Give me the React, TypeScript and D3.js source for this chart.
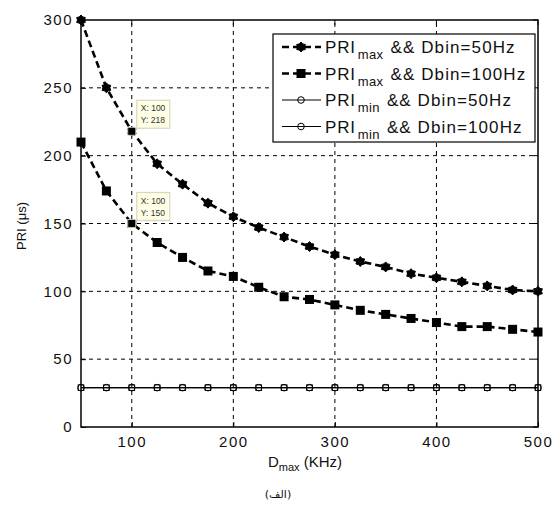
import React, { useRef, useEffect } from 'react';
import * as d3 from 'd3';

// D_max (KHz) sample points
const dmax = [50, 75, 100, 125, 150, 175, 200, 225, 250, 275, 300, 325, 350, 375, 400, 425, 450, 475, 500];
// PRI (us)
const priMax50 = [300, 250, 218, 194, 179, 165, 155, 147, 140, 133, 127, 122, 118, 113, 110, 107, 104, 101, 100];
const priMax100 = [210, 174, 150, 136, 125, 115, 111, 103, 96, 94, 90, 86, 83, 80, 77, 74, 74, 72, 70];
const priMin50 = [29, 29, 29, 29, 29, 29, 29, 29, 29, 29, 29, 29, 29, 29, 29, 29, 29, 29, 29];
const priMin100 = [29, 29, 29, 29, 29, 29, 29, 29, 29, 29, 29, 29, 29, 29, 29, 29, 29, 29, 29];

const xTicks = [100, 200, 300, 400, 500];
const yTicks = [0, 50, 100, 150, 200, 250, 300];

const legendLabels = [
  { sub: 'max', rest: 'Dbin=50Hz' },
  { sub: 'max', rest: 'Dbin=100Hz' },
  { sub: 'min', rest: 'Dbin=50Hz' },
  { sub: 'min', rest: 'Dbin=100Hz' },
];

const dataTips = [
  { x: 100, y: 218 },
  { x: 100, y: 150 },
];

function hexagram(r) {
  const pts = [];
  for (let i = 0; i < 12; i++) {
    const a = (Math.PI / 6) * i - Math.PI / 2;
    const rr = i % 2 === 0 ? r : r * 0.7;
    pts.push([Math.cos(a) * rr, Math.sin(a) * rr]);
  }
  return 'M' + pts.map(p => p.join(',')).join('L') + 'Z';
}

function App() {
  const svgRef = useRef(null);

  useEffect(() => {
    const svg = d3.select(svgRef.current);
    svg.selectAll('*').remove();

    const width = 557;
    const height = 507;
    const margin = { top: 20, right: 19, bottom: 80, left: 81 };
    const font = 'Liberation Sans, Arial, sans-serif';

    const x = d3.scaleLinear().domain([50, 500]).range([margin.left, width - margin.right]);
    const y = d3.scaleLinear().domain([0, 300]).range([height - margin.bottom, margin.top]);

    svg.append('rect').attr('width', width).attr('height', height).attr('fill', '#fff');

    // grid
    const grid = svg.append('g').attr('stroke', '#000').attr('stroke-width', 1).attr('stroke-dasharray', '4,4');
    grid.selectAll('.gx')
      .data(xTicks.filter(t => t < 500))
      .join('line')
      .attr('x1', d => x(d)).attr('x2', d => x(d))
      .attr('y1', y(0)).attr('y2', y(300));
    grid.selectAll('.gy')
      .data(yTicks.filter(t => t > 0 && t < 300))
      .join('line')
      .attr('class', 'gy')
      .attr('x1', x(50)).attr('x2', x(500))
      .attr('y1', d => y(d)).attr('y2', d => y(d));

    // series
    const line = vals => d3.line()
      .x((d, i) => x(dmax[i]))
      .y(d => y(d))(vals);

    const series = [
      { vals: priMin100, dash: null, w: 1.2, marker: 'osq' },
      { vals: priMin50, dash: null, w: 1.2, marker: 'ocirc' },
      { vals: priMax100, dash: '7,4', w: 2.6, marker: 'sq' },
      { vals: priMax50, dash: '7,4', w: 2.6, marker: 'hex' },
    ];

    const drawMarker = (g, kind, cx, cy) => {
      if (kind === 'hex') {
        g.append('path').attr('d', hexagram(5)).attr('transform', `translate(${cx},${cy})`)
          .attr('fill', '#000').attr('stroke', '#000').attr('stroke-width', 1);
      } else if (kind === 'sq') {
        g.append('rect').attr('x', cx - 4.5).attr('y', cy - 4.5).attr('width', 9).attr('height', 9)
          .attr('fill', '#000');
      } else if (kind === 'ocirc') {
        g.append('circle').attr('cx', cx).attr('cy', cy).attr('r', 3.3)
          .attr('fill', 'none').attr('stroke', '#000').attr('stroke-width', 1);
      } else if (kind === 'osq') {
        g.append('rect').attr('x', cx - 2.8).attr('y', cy - 2.8).attr('width', 5.6).attr('height', 5.6)
          .attr('fill', 'none').attr('stroke', '#000').attr('stroke-width', 1);
      }
    };

    series.forEach(s => {
      svg.append('path')
        .attr('d', line(s.vals))
        .attr('fill', 'none')
        .attr('stroke', '#000')
        .attr('stroke-width', s.w)
        .attr('stroke-dasharray', s.dash);
      const g = svg.append('g');
      s.vals.forEach((v, i) => drawMarker(g, s.marker, x(dmax[i]), y(v)));
    });

    // axes box and ticks
    svg.append('rect')
      .attr('x', x(50)).attr('y', y(300))
      .attr('width', x(500) - x(50)).attr('height', y(0) - y(300))
      .attr('fill', 'none').attr('stroke', '#000').attr('stroke-width', 1.5);

    const xAxis = svg.append('g')
      .attr('transform', `translate(0,${y(0)})`)
      .call(d3.axisBottom(x).tickValues(xTicks).tickSizeInner(-5).tickSizeOuter(0).tickPadding(9));
    const yAxis = svg.append('g')
      .attr('transform', `translate(${x(50)},0)`)
      .call(d3.axisLeft(y).tickValues(yTicks).tickSizeInner(-5).tickSizeOuter(0).tickPadding(8));
    [xAxis, yAxis].forEach(a => {
      a.select('.domain').remove();
      a.selectAll('text')
        .attr('font-family', font)
        .attr('font-size', 15)
        .attr('letter-spacing', 1.5)
        .attr('fill', '#111');
    });
    svg.append('g').selectAll('line').data(xTicks).join('line')
      .attr('x1', d => x(d)).attr('x2', d => x(d))
      .attr('y1', y(300)).attr('y2', y(300) + 5).attr('stroke', '#000');
    svg.append('g').selectAll('line').data(yTicks).join('line')
      .attr('x1', x(500)).attr('x2', x(500) - 5)
      .attr('y1', d => y(d)).attr('y2', d => y(d)).attr('stroke', '#000');

    // axis labels
    const xl = svg.append('text')
      .attr('x', 305).attr('y', 467)
      .attr('text-anchor', 'middle')
      .attr('font-family', font).attr('font-size', 15).attr('fill', '#111');
    xl.append('tspan').text('D');
    xl.append('tspan').attr('font-size', 11).attr('dy', 4).text('max');
    xl.append('tspan').attr('dy', -4).text(' (KHz)');

    svg.append('text')
      .attr('transform', 'translate(26,226) rotate(-90)')
      .attr('text-anchor', 'middle')
      .attr('font-family', font).attr('font-size', 13).attr('fill', '#111')
      .text('PRI (μs)');

    svg.append('text')
      .attr('x', 278).attr('y', 498)
      .attr('text-anchor', 'middle')
      .attr('font-family', 'DejaVu Sans, sans-serif').attr('font-size', 11).attr('fill', '#111')
      .text('(الف)');

    // data tips
    dataTips.forEach(t => {
      const px = x(t.x);
      const py = y(t.y);
      svg.append('rect').attr('x', px - 4).attr('y', py - 4).attr('width', 8).attr('height', 8)
        .attr('fill', '#000').attr('stroke', '#f4efc8').attr('stroke-width', 0.8);
      const bx = px + 5;
      const by = py - 31;
      svg.append('rect').attr('x', bx).attr('y', by).attr('width', 33).attr('height', 28)
        .attr('fill', '#ffffe6').attr('stroke', '#d8d6c0').attr('stroke-width', 1.2);
      svg.append('text').attr('x', bx + 4).attr('y', by + 11)
        .attr('font-family', font).attr('font-size', 8.5).attr('fill', '#333')
        .text(`X: ${t.x}`);
      svg.append('text').attr('x', bx + 4).attr('y', by + 23)
        .attr('font-family', font).attr('font-size', 8.5).attr('fill', '#333')
        .text(`Y: ${t.y}`);
    });

    // legend
    const lg = svg.append('g');
    lg.append('rect').attr('x', 273).attr('y', 34).attr('width', 262).attr('height', 108)
      .attr('fill', '#fff').attr('stroke', '#000').attr('stroke-width', 1.2);
    const legendSeries = [series[3], series[2], series[1], series[0]];
    legendLabels.forEach((l, i) => {
      const cy = 47 + i * 26.5;
      const s = legendSeries[i];
      lg.append('line').attr('x1', 282).attr('x2', 321).attr('y1', cy).attr('y2', cy)
        .attr('stroke', '#000').attr('stroke-width', s.w).attr('stroke-dasharray', s.dash ? '7,4' : null);
      drawMarker(lg, i === 3 ? 'ocirc' : s.marker, 301, cy);
      const t = lg.append('text').attr('x', 325).attr('y', cy + 6)
        .attr('font-family', font).attr('font-size', 17).attr('fill', '#111');
      t.append('tspan').attr('letter-spacing', 0.8).text('PRI');
      t.append('tspan').attr('font-size', 13).attr('dy', 6).attr('dx', 2).attr('letter-spacing', 0.4).text(l.sub);
      t.append('tspan').attr('dy', -6).attr('dx', 7).attr('letter-spacing', 1.1).text('&& ' + l.rest);
    });
  }, []);

  return (
    <svg ref={svgRef} width={557} height={507} style={{ position: 'absolute', left: 0, top: 0 }}></svg>
  );
}

export default App;
